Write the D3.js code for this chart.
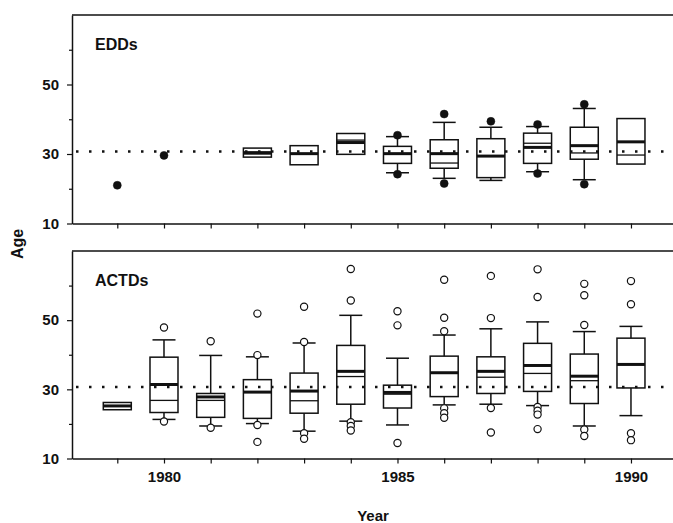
<!DOCTYPE html>
<html>
<head>
<meta charset="utf-8">
<script src="https://cdn.jsdelivr.net/npm/d3@7"></script>
<style>
  body { margin: 0; background: #fff; }
  svg text { font-family: "Liberation Sans", Arial, sans-serif; font-weight: bold; fill: #111; }
</style>
</head>
<body>
<div id="chart"></div>
<script>
// years on the x axis
const years = [1979, 1980, 1981, 1982, 1983, 1984, 1985, 1986, 1987, 1988, 1989, 1990];
const yearLabels = [1980, 1985, 1990];
const ageTicks = [10, 20, 30, 40, 50, 60];
const ageLabels = [10, 30, 50];
const refAge = 30.7;

// EDDs panel
const eddQ1     = [null, null, null, 29.1, 26.9, 29.9, 27.3, 25.9, 23.2, 27.3, 28.5, 27.1];
const eddQ3     = [null, null, null, 31.7, 32.4, 35.9, 32.2, 34.1, 34.4, 36.0, 37.7, 40.2];
const eddMean   = [null, null, null, 30.4, 30.1, 33.3, 30.1, 30.1, 29.4, 31.9, 32.4, 33.5];
const eddMedian = [null, null, null, 30.0, 30.1, 34.0, 30.1, 27.4, 29.4, 33.1, 30.3, 29.7];
const eddLo     = [null, null, null, null, null, null, 24.6, 23.0, 22.4, 24.9, 22.6, null];
const eddHi     = [null, null, null, null, null, null, 35.0, 39.1, 37.7, 37.9, 43.1, null];
const eddDots   = [[21.0], [29.6], [], [], [], [], [35.4, 24.2], [41.5, 21.5], [39.4], [38.5, 24.4], [44.3, 21.3], []];

// ACTDs panel
const actQ1     = [24.1, 23.3, 21.9, 21.6, 23.1, 25.7, 24.6, 27.9, 28.8, 29.4, 25.9, 30.4];
const actQ3     = [26.2, 39.3, 28.8, 32.8, 34.7, 42.7, 31.2, 39.6, 39.4, 43.3, 40.2, 44.8];
const actMean   = [25.2, 31.4, 27.8, 29.2, 29.5, 35.2, 29.1, 34.8, 35.2, 36.9, 33.8, 37.2];
const actMedian = [25.2, 26.8, 26.8, 29.2, 26.7, 33.7, 28.6, 34.8, 33.5, 34.6, 32.5, 37.2];
const actLo     = [null, 21.3, 19.4, 20.1, 17.9, 20.8, 19.7, 25.5, 25.7, 25.3, 19.4, 22.4];
const actHi     = [null, 44.3, 39.8, 39.4, 43.4, 51.4, 39.0, 45.7, 47.5, 49.5, 46.7, 48.2];
const actOut    = [
  [],
  [47.9, 20.7],
  [43.9, 18.9],
  [51.9, 39.9, 19.7, 14.8],
  [53.9, 43.7, 17.3, 15.7],
  [64.8, 55.7, 20.5, 19.4, 18.1],
  [52.6, 48.5, 14.5],
  [61.7, 50.7, 46.8, 24.5, 23.1, 21.8],
  [62.8, 50.6, 24.6, 17.5],
  [64.7, 56.7, 24.9, 23.8, 22.7, 18.5],
  [60.5, 57.2, 48.6, 18.4, 16.5],
  [61.3, 54.6, 17.3, 15.3]
];

const width = 673;
const height = 523;

const svg = d3.select("#chart")
  .append("svg")
  .attr("width", width)
  .attr("height", height);

const x = d3.scaleLinear()
  .domain([1978.03, 1990.9])
  .range([72, 673]);

const boxW = 28;
const capW = 23;

function drawPanel(top, bottom, name, q1, q3, mean, median, lo, hi, dots, filled, showYears) {
  const y = d3.scaleLinear().domain([10, 70]).range([bottom, top]);
  const g = svg.append("g");

  // top frame line
  g.append("line")
    .attr("x1", x.range()[0]).attr("x2", x.range()[1])
    .attr("y1", y(70)).attr("y2", y(70))
    .attr("stroke", "#111").attr("stroke-width", 1.5);

  // x axis
  const xa = g.append("g")
    .attr("transform", `translate(0,${bottom})`)
    .call(d3.axisBottom(x).tickValues(years).tickSize(5).tickSizeOuter(0).tickPadding(8)
      .tickFormat(d => showYears && yearLabels.includes(d) ? d : ""));
  xa.select(".domain").attr("stroke", "#111").attr("stroke-width", 1.5);
  xa.selectAll(".tick line").attr("stroke", "#111").attr("stroke-width", 1.2);
  xa.selectAll("text").attr("font-size", 15);

  // y axis
  const ya = g.append("g")
    .attr("transform", `translate(${x.range()[0]},0)`)
    .call(d3.axisLeft(y).tickValues(ageTicks).tickSize(5).tickSizeOuter(0).tickPadding(8)
      .tickFormat(d => ageLabels.includes(d) ? d : ""));
  ya.select(".domain").attr("stroke", "#111").attr("stroke-width", 1.5);
  ya.selectAll(".tick line")
    .attr("stroke", "#111").attr("stroke-width", 1.2)
    .attr("x2", d => ageLabels.includes(d) ? -5 : -3);
  ya.selectAll("text").attr("font-size", 15);

  // panel name
  g.append("text")
    .attr("x", 95).attr("y", top + 35)
    .attr("font-size", 16)
    .text(name);

  // boxes
  years.forEach((yr, i) => {
    const cx = x(yr);
    if (q1[i] != null) {
      if (hi[i] != null) {
        g.append("line").attr("x1", cx).attr("x2", cx).attr("y1", y(q3[i])).attr("y2", y(hi[i]))
          .attr("stroke", "#111").attr("stroke-width", 1.5);
        g.append("line").attr("x1", cx - capW / 2).attr("x2", cx + capW / 2).attr("y1", y(hi[i])).attr("y2", y(hi[i]))
          .attr("stroke", "#111").attr("stroke-width", 1.5);
      }
      if (lo[i] != null) {
        g.append("line").attr("x1", cx).attr("x2", cx).attr("y1", y(q1[i])).attr("y2", y(lo[i]))
          .attr("stroke", "#111").attr("stroke-width", 1.5);
        g.append("line").attr("x1", cx - capW / 2).attr("x2", cx + capW / 2).attr("y1", y(lo[i])).attr("y2", y(lo[i]))
          .attr("stroke", "#111").attr("stroke-width", 1.5);
      }
      g.append("rect")
        .attr("x", cx - boxW / 2).attr("width", boxW)
        .attr("y", y(q3[i])).attr("height", y(q1[i]) - y(q3[i]))
        .attr("fill", "none").attr("stroke", "#111").attr("stroke-width", 1.5);
      g.append("line").attr("x1", cx - boxW / 2).attr("x2", cx + boxW / 2)
        .attr("y1", y(median[i])).attr("y2", y(median[i]))
        .attr("stroke", "#111").attr("stroke-width", 1.3);
      g.append("line").attr("x1", cx - boxW / 2).attr("x2", cx + boxW / 2)
        .attr("y1", y(mean[i])).attr("y2", y(mean[i]))
        .attr("stroke", "#111").attr("stroke-width", 3);
    }
    dots[i].forEach(v => {
      g.append("circle")
        .attr("cx", cx).attr("cy", y(v))
        .attr("r", filled ? 4 : 3.6)
        .attr("fill", filled ? "#111" : "#fff")
        .attr("stroke", "#111").attr("stroke-width", filled ? 0.5 : 1.2);
    });
  });

  // dotted reference line
  g.append("line")
    .attr("x1", x.range()[0] + 4).attr("x2", x.range()[1])
    .attr("y1", y(refAge)).attr("y2", y(refAge))
    .attr("stroke", "#111").attr("stroke-width", 2.5)
    .attr("stroke-dasharray", "2.5,10.5");
}

drawPanel(15, 223.5, "EDDs", eddQ1, eddQ3, eddMean, eddMedian, eddLo, eddHi, eddDots, true, false);
drawPanel(251, 458.5, "ACTDs", actQ1, actQ3, actMean, actMedian, actLo, actHi, actOut, false, true);

// axis titles
svg.append("text")
  .attr("transform", "translate(23,244) rotate(-90)")
  .attr("text-anchor", "middle")
  .attr("font-size", 16)
  .text("Age");

svg.append("text")
  .attr("x", 373).attr("y", 521)
  .attr("text-anchor", "middle")
  .attr("font-size", 15)
  .text("Year");
</script>
</body>
</html>
